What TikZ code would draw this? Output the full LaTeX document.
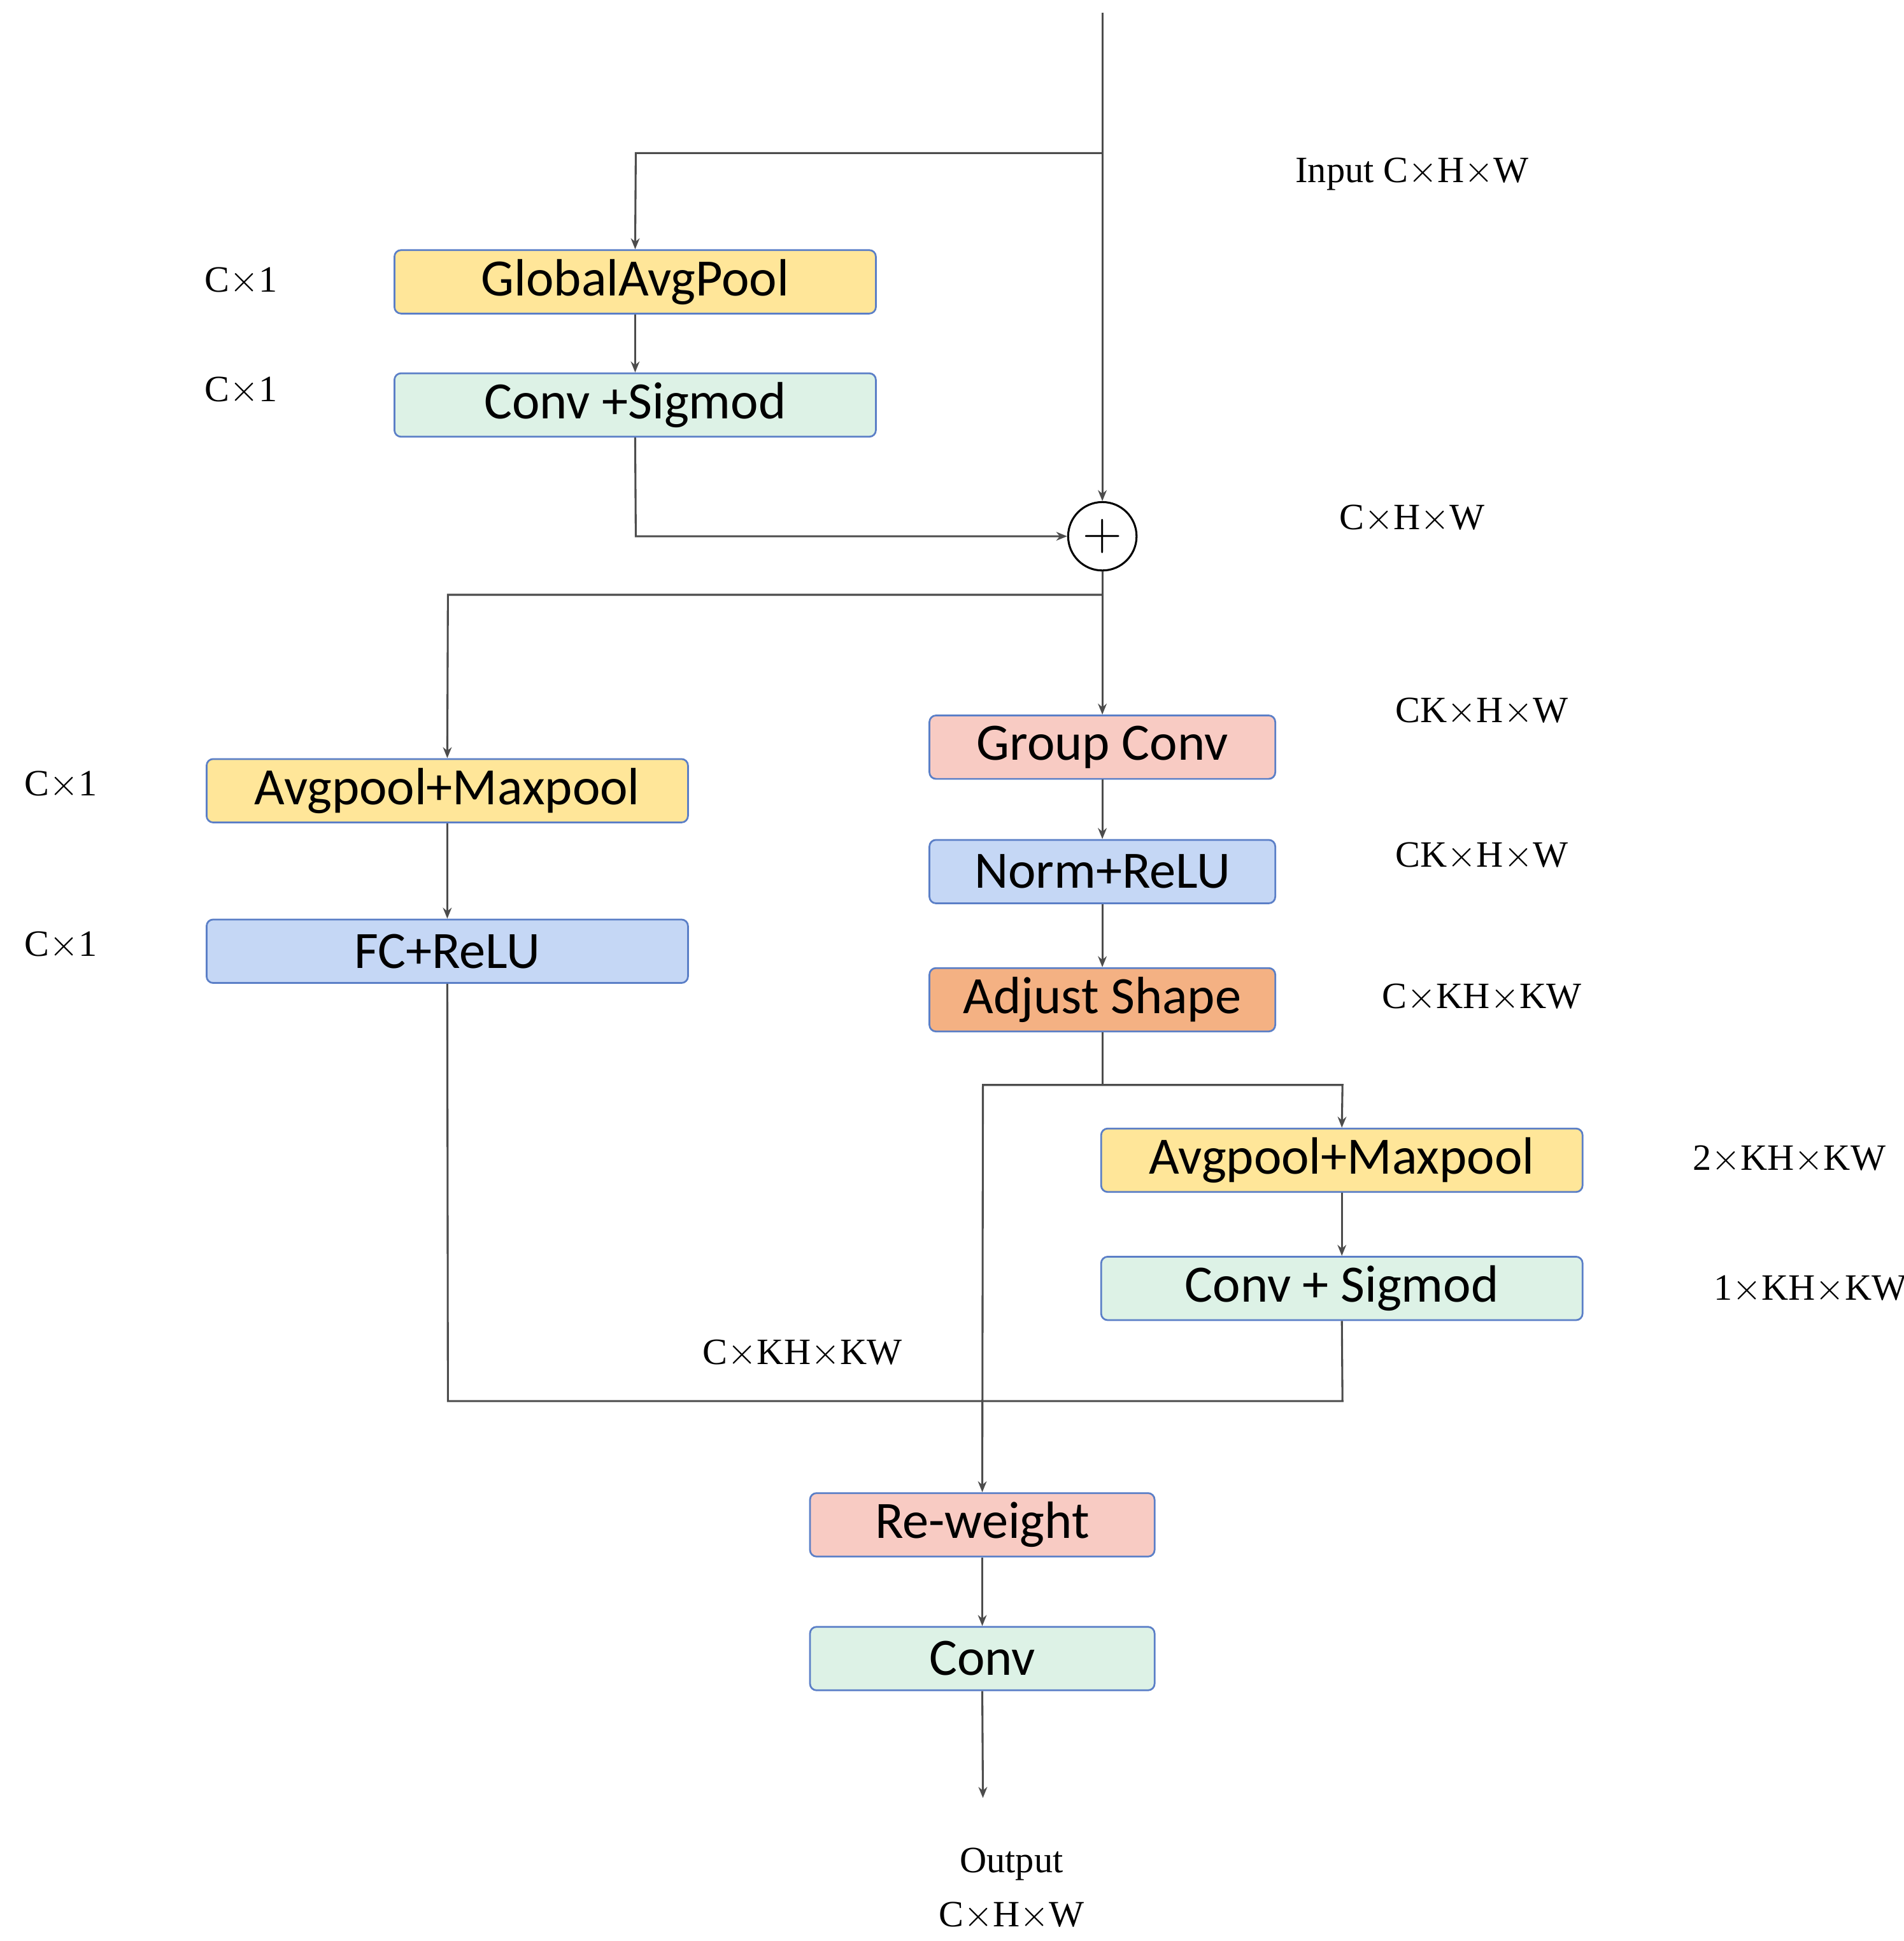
\documentclass[tikz,border=0pt]{standalone}
\usepackage{fontspec}
\setmainfont{Liberation Serif}
\newfontfamily\boxfont{Carlito}
\usetikzlibrary{arrows.meta}
\definecolor{cyel}{HTML}{FFE699}
\definecolor{cmint}{HTML}{DDF2E6}
\definecolor{cblue}{HTML}{C5D7F5}
\definecolor{cpink}{HTML}{F8CBC3}
\definecolor{corg}{HTML}{F4B183}
\definecolor{cbord}{HTML}{5B7FC7}
\begin{document}
\begin{tikzpicture}[x=0.02cm,y=-0.02cm,
  box/.style={draw=cbord,line width=0.8pt,rounded corners=3pt,minimum height=1.02cm,inner sep=0pt,font=\boxfont\fontsize{24}{28}\selectfont},
  lab/.style={font=\fontsize{17}{20}\selectfont,inner sep=0pt},
  ln/.style={draw=black!70,line width=0.9pt},
  ar/.style={ln,-{Stealth[length=5pt,width=4pt]}}]
\useasboundingbox (0,0) rectangle (1530,1560);
\coordinate (top) at (886,10);
\coordinate (b1) at (886,123);
\coordinate (b1l) at (511,123);
\node[box,fill=cyel,minimum width=7.74cm] (gap) at (510.5,226.5) {GlobalAvgPool};
\node[box,fill=cmint,minimum width=7.74cm] (cs1) at (510.5,325.5) {Conv +Sigmod};
\node[draw,circle,line width=0.9pt,minimum size=1.1cm,inner sep=0pt,font=\fontsize{26}{26}\selectfont] (plus) at (886,431) {$+$};
\coordinate (c1) at (511,431);
\coordinate (b2) at (886,478);
\coordinate (b2l) at (360,478);
\node[box,fill=cyel,minimum width=7.74cm] (am1) at (359.5,635.5) {Avgpool+Maxpool};
\node[box,fill=cblue,minimum width=7.74cm] (fc) at (359.5,764.5) {FC+ReLU};
\node[box,fill=cpink,minimum width=5.56cm] (gc) at (886,600.5) {Group Conv};
\node[box,fill=cblue,minimum width=5.56cm] (nr) at (886,700.5) {Norm+ReLU};
\node[box,fill=corg,minimum width=5.56cm] (as) at (886,803.5) {Adjust Shape};
\coordinate (b3) at (886,872);
\coordinate (b3l) at (790,872);
\coordinate (b3r) at (1079,872);
\node[box,fill=cyel,minimum width=7.74cm] (am2) at (1078.5,932.5) {Avgpool+Maxpool};
\node[box,fill=cmint,minimum width=7.74cm] (cs2) at (1078.5,1035.5) {Conv + Sigmod};
\coordinate (m1) at (360,1126);
\coordinate (m2) at (1079,1126);
\node[box,fill=cpink,minimum width=5.54cm] (rw) at (789.5,1225.5) {Re-weight};
\node[box,fill=cmint,minimum width=5.54cm] (cv) at (789.5,1333) {Conv};
\coordinate (out) at (790,1445);
% connectors
\draw[ar] (top) -- (plus);
\draw[ar] (b1) -- (b1l) -- (gap.north);
\draw[ar] (gap) -- (cs1);
\draw[ar] (cs1.south) -- (c1) -- (plus.west);
\draw[ln] (plus.south) -- (b2);
\draw[ar] (b2) -- (gc.north);
\draw[ar] (b2) -- (b2l) -- (am1.north);
\draw[ar] (am1) -- (fc);
\draw[ar] (gc) -- (nr);
\draw[ar] (nr) -- (as);
\draw[ln] (as.south) -- (b3);
\draw[ar] (b3) -- (b3r) -- (am2.north);
\draw[ar] (b3) -- (b3l) -- (rw.north);
\draw[ar] (am2) -- (cs2);
\draw[ln] (fc.south) -- (m1) -- (m2) -- (cs2.south);
\draw[ar] (rw) -- (cv);
\draw[ar] (cv.south) -- (out);
% labels
\node[lab] (l1) at (1135,140) {Input C$\times$H$\times$W};
\node[lab] (l2) at (194,226) {C$\times$1};
\node[lab] (l3) at (194,314) {C$\times$1};
\node[lab] (l4) at (1135,417) {C$\times$H$\times$W};
\node[lab] (l5) at (49,631) {C$\times$1};
\node[lab] (l6) at (49,760) {C$\times$1};
\node[lab] (l7) at (1191,572) {CK$\times$H$\times$W};
\node[lab] (l8) at (1191,688) {CK$\times$H$\times$W};
\node[lab] (l9) at (1191,802) {C$\times$KH$\times$KW};
\node[lab] (l10) at (1438,932) {2$\times$KH$\times$KW};
\node[lab] (l11) at (1455,1036) {1$\times$KH$\times$KW};
\node[lab] (l12) at (645,1088) {C$\times$KH$\times$KW};
\node[lab] (l13) at (813,1498) {Output};
\node[lab] (l14) at (813,1540) {C$\times$H$\times$W};
\end{tikzpicture}
\end{document}
